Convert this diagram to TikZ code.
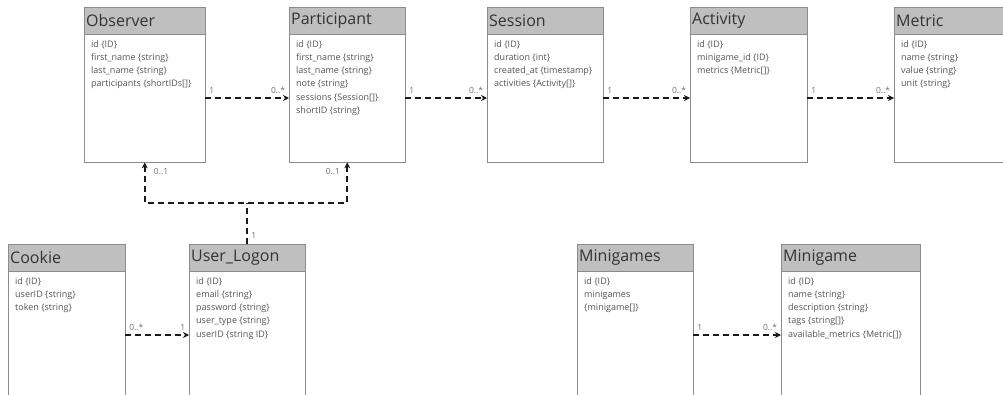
\documentclass[tikz,border=0pt]{standalone}
\usepackage{fontspec}
\setmainfont{Open Sans}
\usetikzlibrary{arrows.meta,positioning}

\definecolor{hdrgray}{HTML}{BFBFBF}
\definecolor{boxline}{HTML}{8C8C8C}
\definecolor{titletext}{HTML}{333333}
\definecolor{attrtext}{HTML}{555555}
\definecolor{multtext}{HTML}{707070}
\definecolor{linkline}{HTML}{1A1A1A}

\tikzset{
  hdr/.style={draw=boxline, fill=hdrgray, anchor=north west, text width=#1,
    minimum height=27pt, inner sep=2pt, align=left, text=titletext,
    font=\fontsize{16}{18}\selectfont},
  body/.style 2 args={draw=boxline, fill=white, anchor=north west,
    minimum width=#1, minimum height=#2, inner sep=0pt},
  attrs/.style={anchor=north west, inner sep=0pt, align=left, text=attrtext,
    font=\fontsize{9}{13.3}\selectfont},
  mult/.style={inner xsep=3pt, inner ysep=4pt, text=multtext,
    font=\fontsize{8.5}{9}\selectfont},
  link/.style={->, draw=linkline, line width=1.7pt,
    dash pattern=on 6pt off 4pt},
}

\begin{document}
\begin{tikzpicture}[x=1pt,y=-1pt,>={Stealth[length=6pt,width=6pt]}]
\useasboundingbox (0,0) rectangle (1003,394);

% top row
\node[body={121pt}{128pt}] (obs-b) at (84,34) {};
\node[hdr=117pt] (obs) at (84,7) {Observer};
\node[attrs] (obs-a) at ([shift={(7pt,-6pt)}]obs-b.north west)
    {id \{ID\}\\first\_name \{string\}\\last\_name \{string\}\\participants \{shortIDs[]\}};

\node[body={116pt}{128pt}] (part-b) at (289,34) {};
\node[hdr=112pt] (part) at (289,7) {Participant};
\node[attrs] (part-a) at ([shift={(7pt,-6pt)}]part-b.north west)
    {id \{ID\}\\first\_name \{string\}\\last\_name \{string\}\\note \{string\}\\sessions \{Session[]\}\\shortID \{string\}};

\node[body={116pt}{128pt}] (sess-b) at (487,34) {};
\node[hdr=112pt] (sess) at (487,7) {Session};
\node[attrs] (sess-a) at ([shift={(7pt,-6pt)}]sess-b.north west)
    {id \{ID\}\\duration \{int\}\\created\_at \{timestamp\}\\activities \{Activity[]\}};

\node[body={117pt}{128pt}] (act-b) at (690,34) {};
\node[hdr=113pt] (act) at (690,7) {Activity};
\node[attrs] (act-a) at ([shift={(7pt,-6pt)}]act-b.north west)
    {id \{ID\}\\minigame\_id \{ID\}\\metrics \{Metric[]\}};

\node[body={116pt}{128pt}] (met-b) at (894,34) {};
\node[hdr=112pt] (met) at (894,7) {Metric};
\node[attrs] (met-a) at ([shift={(7pt,-6pt)}]met-b.north west)
    {id \{ID\}\\name \{string\}\\value \{string\}\\unit \{string\}};

% bottom row
\node[body={117pt}{135pt}] (cook-b) at (8,271) {};
\node[hdr=113pt] (cook) at (8,244) {Cookie};
\node[attrs] (cook-a) at ([shift={(7pt,-6pt)}]cook-b.north west)
    {id \{ID\}\\userID \{string\}\\token \{string\}};

\node[body={116pt}{135pt}] (log-b) at (189,271) {};
\node[hdr=112pt] (log) at (189,244) {User\_Logon};
\node[attrs] (log-a) at ([shift={(7pt,-6pt)}]log-b.north west)
    {id \{ID\}\\email \{string\}\\password \{string\}\\user\_type \{string\}\\userID \{string ID\}};

\node[body={116pt}{135pt}] (mgs-b) at (577,271) {};
\node[hdr=112pt] (mgs) at (577,244) {Minigames};
\node[attrs] (mgs-a) at ([shift={(7pt,-6pt)}]mgs-b.north west)
    {id \{ID\}\\minigames\\\{minigame[]\}};

\node[body={139pt}{135pt}] (mg-b) at (781,271) {};
\node[hdr=135pt] (mg) at (781,244) {Minigame};
\node[attrs] (mg-a) at ([shift={(7pt,-6pt)}]mg-b.north west)
    {id \{ID\}\\name \{string\}\\description \{string\}\\tags \{string[]\}\\available\_metrics \{Metric[]\}};

% associations
\draw[link] ([yshift=-64pt]obs-b.north east) -- ([yshift=-64pt]part-b.north west)
    node[mult,pos=0,above right] (m1a) {1}
    node[mult,pos=1,above left] (m1b) {0..*};
\draw[link] ([yshift=-64pt]part-b.north east) -- ([yshift=-64pt]sess-b.north west)
    node[mult,pos=0,above right] (m2a) {1}
    node[mult,pos=1,above left] (m2b) {0..*};
\draw[link] ([yshift=-64pt]sess-b.north east) -- ([yshift=-64pt]act-b.north west)
    node[mult,pos=0,above right] (m3a) {1}
    node[mult,pos=1,above left] (m3b) {0..*};
\draw[link] ([yshift=-64pt]act-b.north east) -- ([yshift=-64pt]met-b.north west)
    node[mult,pos=0,above right] (m4a) {1}
    node[mult,pos=1,above left] (m4b) {0..*};

\draw[link] ([yshift=-64pt]cook-b.north east) -- ([yshift=-64pt]log-b.north west)
    node[mult,pos=0,above right] (m5a) {0..*}
    node[mult,pos=1,above left] (m5b) {1};
\draw[link] ([yshift=-64pt]mgs-b.north east) -- ([yshift=-64pt]mg-b.north west)
    node[mult,pos=0,above right] (m6a) {1}
    node[mult,pos=1,above left] (m6b) {0..*};

% login to observer / participant
\coordinate (fork) at (log.north |- 0,203);
\draw[link,<->] (obs-b.south) |- (fork) -| (part-b.south);
\draw[link,-] (log.north) -- (fork);
\node[mult,anchor=north west] (m7a) at ([shift={(6pt,-2pt)}]obs-b.south) {0..1};
\node[mult,anchor=north east] (m7b) at ([shift={(-4pt,-2pt)}]part-b.south) {0..1};
\node[mult,anchor=west] (m7c) at ([shift={(1pt,9pt)}]log.north) {1};
\end{tikzpicture}
\end{document}
